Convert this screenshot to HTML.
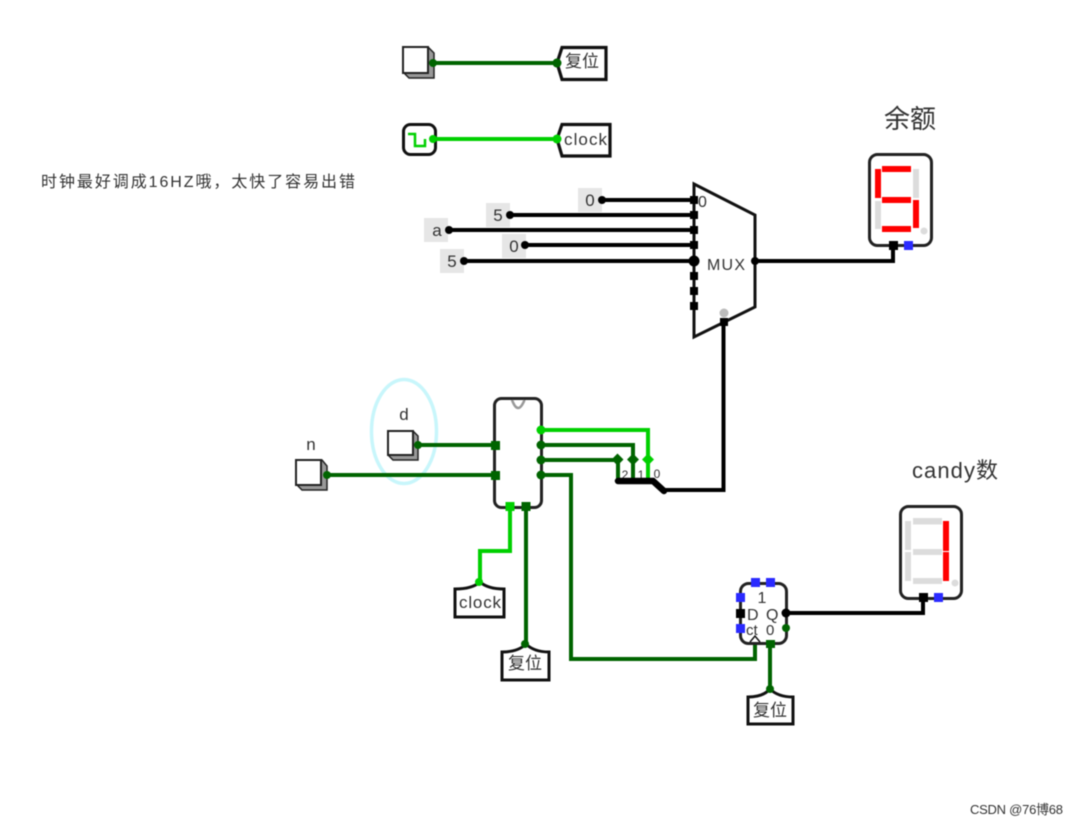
<!DOCTYPE html>
<html>
<head>
<meta charset="utf-8">
<style>
html,body{margin:0;padding:0;background:#fff;width:1078px;height:825px;overflow:hidden}
svg{display:block;filter:blur(.5px)}
text{font-family:"Liberation Sans","Noto Sans CJK SC",sans-serif;fill:#333}
</style>
</head>
<body>
<svg width="1078" height="825" viewBox="0 0 1078 825" xmlns="http://www.w3.org/2000/svg">
<rect width="1078" height="825" fill="#fff"/>

<!-- note -->
<text x="41" y="187" font-size="16" textLength="314" lengthAdjust="spacing">时钟最好调成16HZ哦，太快了容易出错</text>

<!-- top input -->
<path d="M403 47H428L434 53V78H409L403 72Z" fill="#999" stroke="#222" stroke-width="1.5"/>
<rect x="403" y="47" width="25" height="26" fill="#fff" stroke="#222" stroke-width="2"/>
<path d="M433 63H558" stroke="#006400" stroke-width="4" fill="none"/>
<circle cx="433" cy="63" r="4" fill="#006400"/><circle cx="557" cy="63" r="4.500" fill="#006400"/>
<path d="M557 63L562 47.500H606V79.500H562Z" fill="#fff" stroke="#111" stroke-width="3.200"/>
<circle cx="557" cy="63" r="4.500" fill="#006400"/>
<text x="565" y="67" font-size="17" fill="#444">复位</text>

<!-- clock -->
<rect x="403.500" y="124.500" width="32" height="30" rx="7" fill="#fff" stroke="#111" stroke-width="3"/>
<path d="M408 134H415V146H425V139" fill="none" stroke="#00d000" stroke-width="2.500"/>
<path d="M433 139H557" stroke="#00d000" stroke-width="4" fill="none"/>
<path d="M557 139L562 124.500H610V156H562Z" fill="#fff" stroke="#111" stroke-width="3.200"/>
<circle cx="433" cy="139" r="4" fill="#00d000"/><circle cx="557" cy="139" r="4.500" fill="#00d000"/>
<text x="564" y="145" font-size="17" textLength="43">clock</text>

<!-- constants -->
<g fill="#e6e6e6">
<rect x="578" y="188" width="24" height="24"/>
<rect x="486" y="203" width="24" height="24"/>
<rect x="424" y="218" width="24" height="24"/>
<rect x="502" y="234" width="24" height="24"/>
<rect x="440" y="249" width="24" height="24"/>
</g>
<g font-size="17" text-anchor="middle">
<text x="590" y="206">0</text>
<text x="498" y="221">5</text>
<text x="437" y="236">a</text>
<text x="514" y="252">0</text>
<text x="452" y="267">5</text>
</g>
<g stroke="#000" stroke-width="4" fill="none">
<path d="M602 200H694"/><path d="M510 215H694"/><path d="M448 230H694"/><path d="M525 245H694"/><path d="M464 261H694"/>
</g>
<g fill="#000">
<circle cx="602" cy="200" r="4"/><circle cx="510" cy="215" r="4"/><circle cx="449" cy="230" r="4"/><circle cx="525" cy="245" r="4"/><circle cx="464" cy="261" r="4"/>
</g>

<!-- MUX -->
<path d="M694 184L755 215V307L694 337Z" fill="#fff" stroke="#111" stroke-width="3"/>
<g fill="#000">
<rect x="690" y="196" width="8" height="8"/>
<rect x="690" y="211" width="8" height="8"/>
<rect x="690" y="226" width="8" height="8"/>
<rect x="690" y="241" width="8" height="8"/>
<circle cx="694" cy="261" r="5.500"/>
<rect x="690" y="272" width="8" height="8"/>
<rect x="690" y="287" width="8" height="8"/>
<rect x="690" y="302" width="8" height="8"/>
</g>
<text x="698" y="207" font-size="16" fill="#bbb">0</text>
<text x="707" y="270" font-size="16" textLength="38">MUX</text>
<circle cx="724" cy="313" r="4.500" fill="#bbb"/>
<path d="M755 261H893V245" fill="none" stroke="#000" stroke-width="4"/>
<circle cx="755" cy="261" r="4" fill="#000"/>

<!-- display 1 -->
<text x="884" y="128" font-size="26" fill="#444">余额</text>
<rect x="869.500" y="154.500" width="62" height="91" rx="8" fill="#fff" stroke="#222" stroke-width="3"/>
<g fill="#dcdcdc">
<rect x="913" y="169" width="6" height="29"/>
<rect x="875" y="201" width="6" height="28"/>
<circle cx="924" cy="231" r="3.500"/>
</g>
<g fill="#f00">
<rect x="882" y="166" width="29" height="6"/>
<rect x="875" y="169" width="6" height="29"/>
<rect x="882" y="197" width="29" height="6"/>
<rect x="913" y="200" width="6" height="28"/>
<rect x="882" y="226" width="29" height="6"/>
</g>
<rect x="889" y="241" width="9" height="9" fill="#000"/>
<rect x="904" y="241" width="9" height="9" fill="#2a2aff"/>

<!-- ellipse -->
<ellipse cx="404" cy="431.500" rx="32.500" ry="52" fill="none" stroke="#c8f6fb" stroke-width="3.500"/>

<!-- inputs d, n -->
<text x="404" y="420" font-size="17" text-anchor="middle">d</text>
<path d="M388 431H413L418 436V460H393L388 455Z" fill="#999" stroke="#222" stroke-width="1.500"/>
<rect x="388" y="431" width="25" height="24" fill="#fff" stroke="#222" stroke-width="2"/>
<text x="311" y="450" font-size="17" text-anchor="middle">n</text>
<path d="M296 460H322L327 466V490H302L296 484Z" fill="#999" stroke="#222" stroke-width="1.500"/>
<rect x="296" y="460" width="25" height="25" fill="#fff" stroke="#222" stroke-width="2"/>
<path d="M418 445H494M327 475H494" stroke="#006400" stroke-width="4" fill="none"/>
<circle cx="418" cy="445" r="4" fill="#006400"/><circle cx="327" cy="475" r="4" fill="#006400"/>

<!-- counter chip -->
<rect x="494.500" y="398.500" width="47" height="109" rx="7" fill="#fff" stroke="#222" stroke-width="3"/>
<path d="M512 400Q518 416 524.500 400" fill="#fff" stroke="#999" stroke-width="2.500"/>
<rect x="491" y="441" width="9" height="9" fill="#006400"/>
<rect x="491" y="471" width="9" height="9" fill="#006400"/>

<!-- wires from chip -->
<path d="M541 430H648V459" fill="none" stroke="#00d000" stroke-width="4"/>
<path d="M541 445H633V459" fill="none" stroke="#006400" stroke-width="4"/>
<path d="M541 460H618" fill="none" stroke="#006400" stroke-width="4"/>
<path d="M618 460V481" stroke="#006400" stroke-width="4"/>
<path d="M633 460V481" stroke="#006400" stroke-width="4"/>
<path d="M648 460V481" stroke="#00d000" stroke-width="4"/>
<path d="M541 475H571V659H755V642" fill="none" stroke="#006400" stroke-width="4"/>
<circle cx="541" cy="430" r="4.500" fill="#00d000"/>
<circle cx="541" cy="445" r="4.500" fill="#006400"/>
<circle cx="541" cy="460" r="4.500" fill="#006400"/>
<circle cx="541" cy="475" r="4.500" fill="#006400"/>
<path d="M617.500 453.500l6 6-6 6-6-6Z M633 453.500l6 6-6 6-6-6Z" fill="#006400"/>
<path d="M648 453.500l6 6-6 6-6-6Z" fill="#00d000"/>
<g font-size="12" text-anchor="middle" fill="#555">
<text x="625" y="479">2</text><text x="641" y="479">1</text><text x="657" y="478">0</text>
</g>

<!-- splitter -->
<path d="M662 490H723.500V322" fill="none" stroke="#000" stroke-width="4"/>
<path d="M618 481H653L664 491" fill="none" stroke="#000" stroke-width="6.500" stroke-linecap="round"/>
<rect x="720" y="318" width="8" height="8" fill="#000"/>

<!-- bottom chip pins -->
<path d="M510 507V551H480V582" fill="none" stroke="#00d000" stroke-width="4"/>
<path d="M526 507V644" fill="none" stroke="#006400" stroke-width="4"/>
<rect x="505.500" y="502" width="9" height="9" fill="#00d000"/>
<rect x="521.500" y="502" width="9" height="9" fill="#006400"/>

<!-- tunnels -->
<path d="M455 589Q472 589 480 582Q488 589 504 589V617H455Z" fill="#fff" stroke="#111" stroke-width="3"/>
<circle cx="479" cy="582" r="4" fill="#00d000"/>
<text x="459" y="608" font-size="17" textLength="42">clock</text>

<path d="M502 652Q518 652 526 644Q534 652 549 652V680H502Z" fill="#fff" stroke="#111" stroke-width="3"/>
<circle cx="525" cy="644" r="4" fill="#006400"/>
<text x="508" y="669" font-size="17" fill="#555">复位</text>

<!-- register -->
<rect x="740.500" y="583.500" width="46" height="60" rx="8" fill="#fff" stroke="#222" stroke-width="3"/>
<g fill="#2a2aff">
<rect x="751" y="578" width="9" height="9"/>
<rect x="766" y="578" width="9" height="9"/>
<rect x="736" y="593" width="9" height="9"/>
<rect x="736" y="624" width="9" height="9"/>
</g>
<rect x="736" y="609" width="9" height="9" fill="#000"/>
<text x="762" y="603" font-size="16" text-anchor="middle">1</text>
<text x="747" y="620" font-size="16">D</text>
<text x="766" y="620" font-size="16">Q</text>
<text x="746" y="635" font-size="15" fill="#aaa">ct</text>
<text x="766" y="635" font-size="15" fill="#aaa">0</text>
<path d="M750 642l5-6 5 6" fill="#fff" stroke="#111" stroke-width="1.500"/>
<path d="M786 613H923V597" fill="none" stroke="#000" stroke-width="4"/>
<circle cx="786" cy="613" r="4.500" fill="#000"/>
<circle cx="786" cy="628" r="4" fill="#006400"/>
<path d="M770 642V690" stroke="#006400" stroke-width="4"/>
<rect x="766" y="640" width="9" height="8" fill="#006400"/>
<path d="M748 697Q763 697 770 689Q778 697 793 697V724H748Z" fill="#fff" stroke="#111" stroke-width="3"/>
<circle cx="770" cy="689" r="4" fill="#006400"/>
<text x="753" y="716" font-size="17" fill="#555">复位</text>

<!-- display 2 -->
<text x="912" y="478" font-size="22" fill="#444" textLength="86">candy数</text>
<rect x="900.500" y="506.500" width="61" height="92" rx="8" fill="#fff" stroke="#222" stroke-width="3"/>
<g fill="#dcdcdc">
<rect x="913" y="518" width="29" height="6.500"/>
<rect x="905" y="521" width="6" height="29"/>
<rect x="905" y="552" width="6" height="29"/>
<rect x="913" y="549" width="29" height="6"/>
<rect x="913" y="578" width="29" height="6"/>
<circle cx="955" cy="583" r="3.500"/>
</g>
<g fill="#f00">
<rect x="943" y="521" width="6" height="30"/>
<rect x="943" y="552" width="6" height="29"/>
</g>
<rect x="919" y="593" width="9" height="9" fill="#000"/>
<rect x="934" y="593" width="9" height="9" fill="#2a2aff"/>

<text x="970" y="814" font-size="13" fill="#888" textLength="93">CSDN @76博68</text>
</svg>
</body>
</html>
